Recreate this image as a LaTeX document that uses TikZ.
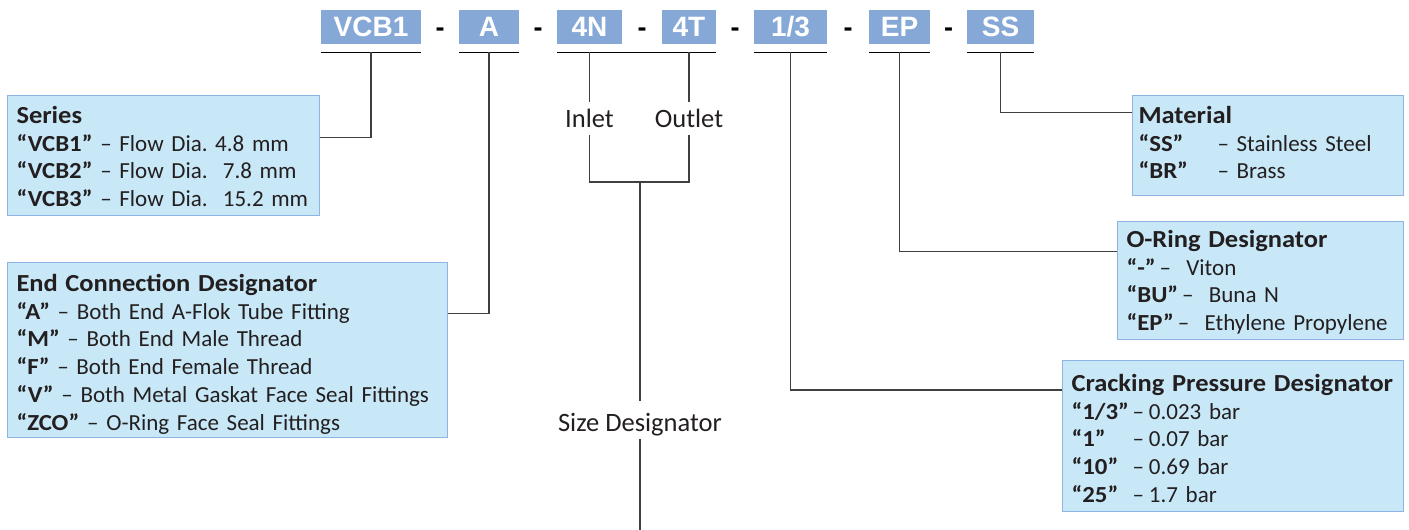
\documentclass[tikz,border=0pt]{standalone}
\usepackage{fontspec}
\setmainfont{Carlito}[BoldFeatures={FakeStretch=1.08}]
\newfontfamily\codefont{Liberation Sans}
\usetikzlibrary{positioning}
\definecolor{codeblue}{RGB}{134,168,215}
\definecolor{boxfill}{RGB}{200,232,248}
\definecolor{boxedge}{RGB}{141,180,226}
\definecolor{linegray}{RGB}{64,64,64}
\definecolor{textgray}{RGB}{35,31,32}
\newcommand\lnup[1]{\rule{0pt}{#1pt}}
\newcommand\lndn[1]{\rule[-#1pt]{0pt}{#1pt}}
\newcommand\headln[1]{{\fontsize{24.5}{27.7}\selectfont\bfseries #1}}
\frenchspacing

\begin{document}
\begin{tikzpicture}[x=1pt,y=-1pt,
  code/.style={fill=codeblue, text=white, font=\codefont\bfseries\fontsize{28}{30}\selectfont, minimum height=34pt, inner sep=0pt},
  sep/.style={font=\codefont\bfseries\fontsize{27}{30}\selectfont, yshift=-5pt, inner sep=0pt},
  uline/.style={line width=1.3pt, black},
  conn/.style={line width=1.4pt, linegray},
  info/.style={draw=boxedge, fill=boxfill, line width=1pt, anchor=north west, align=left, inner xsep=9pt, inner ysep=0pt, text=textgray, font=\fontsize{23}{27.7}\selectfont},
  lbl/.style={font=\fontsize{26.5}{30}\selectfont, text=textgray, anchor=base, text height=17pt, text depth=0pt, inner ysep=8pt}]
  \useasboundingbox (0,0) rectangle (1409,530);

  % part number
  \node[code, minimum width=100pt] (vcb) at (371,27) {VCB1};
  \node[code, minimum width=60pt] (codeA) at (489,27) {A};
  \node[code, minimum width=65pt] (code4N) at (589.5,27) {4N};
  \node[code, minimum width=54pt] (code4T) at (689,27) {4T};
  \node[code, minimum width=73pt] (code13) at (790.5,27) {1/3};
  \node[code, minimum width=61pt] (codeEP) at (899.5,27) {EP};
  \node[code, minimum width=67pt] (codeSS) at (1000.5,27) {SS};
  \foreach \a/\b in {vcb/codeA,codeA/code4N,code4N/code4T,code4T/code13,code13/codeEP,codeEP/codeSS}
    \path (\a) -- node[sep] {-} (\b);
  \foreach \c in {vcb,codeA,code13,codeEP,codeSS}
    \draw[uline] ([yshift=-8pt]\c.south west) -- ([yshift=-8pt]\c.south east);
  \draw[uline] ([yshift=-8pt]code4N.south west) -- ([yshift=-8pt]code4T.south east);

  % left boxes
  \node[info, text width=294pt] (series) at (7,95) {\lnup{28}\headln{Series}\\
    \textbf{“VCB1”} – Flow Dia. 4.8 mm\\
    \textbf{“VCB2”} – Flow Dia.\ \ 7.8 mm\\
    \textbf{“VCB3”} – Flow Dia.\ \ 15.2 mm\lndn{9}};
  \node[info, text width=422pt] (endc) at (7,262) {\lnup{29}\headln{End Connection Designator}\\
    \textbf{“A”} – Both End A-Flok Tube Fitting\\
    \textbf{“M”} – Both End Male Thread\\
    \textbf{“F”} – Both End Female Thread\\
    \textbf{“V”} – Both Metal Gaskat Face Seal Fittings\\
    \textbf{“ZCO”} – O-Ring Face Seal Fittings\lndn{7}};

  % right boxes
  \node[info, inner xsep=6pt, text width=259pt] (mat) at (1132,95) {\lnup{28}\headln{Material}\\
    \makebox[79pt][l]{\textbf{“SS”}}– Stainless Steel\\
    \makebox[79pt][l]{\textbf{“BR”}}– Brass\lndn{17}};
  \node[info, text width=268pt] (oring) at (1117,221) {\lnup{26}\headln{O-Ring Designator}\\
    \textbf{“-”}\,–\ \ Viton\\
    \textbf{“BU”}\,–\ \ Buna N\\
    \textbf{“EP”}\,–\ \ Ethylene Propylene\lndn{9}};
  \node[info, text width=323pt] (crack) at (1062,360) {\lnup{31}\headln{Cracking Pressure Designator}\\
    \makebox[61pt][l]{\textbf{“1/3”}}–\hspace{5pt}0.023 bar\\
    \makebox[61pt][l]{\textbf{“1”}}–\hspace{5pt}0.07 bar\\
    \makebox[61pt][l]{\textbf{“10”}}–\hspace{5pt}0.69 bar\\
    \makebox[61pt][l]{\textbf{“25”}}–\hspace{5pt}1.7 bar\lndn{9}};

  % size designator
  \node[lbl] (inlet) at ([yshift=-100pt]code4N) {Inlet};
  \node[lbl] (outlet) at ([yshift=-100pt]code4T) {Outlet};
  \coordinate (sizejoin) at (640,182);
  \node[lbl, text height=22pt] (sizelbl) at (640,431) {Size Designator};
  \coordinate (sizeend) at (640,530);

  % leaders
  \draw[conn] ([yshift=-8pt]vcb.south) |- ([yshift=18pt]series.east);
  \draw[conn] ([yshift=-8pt]codeA.south) |- ([yshift=36pt]endc.east);
  \draw[conn] ([yshift=-8pt]code4N.south) -- (inlet);
  \draw[conn] ([yshift=-8pt]code4T.south) -- (outlet);
  \draw[conn] (inlet) |- (sizejoin) -| (outlet);
  \draw[conn] (sizejoin) -- (sizelbl);
  \draw[conn] (sizelbl) -- (sizeend);
  \draw[conn] ([yshift=-8pt]code13.south) |- ([yshift=46pt]crack.west);
  \draw[conn] ([yshift=-8pt]codeEP.south) |- ([yshift=29pt]oring.west);
  \draw[conn] ([yshift=-8pt]codeSS.south) |- ([yshift=33.5pt]mat.west);
\end{tikzpicture}
\end{document}
